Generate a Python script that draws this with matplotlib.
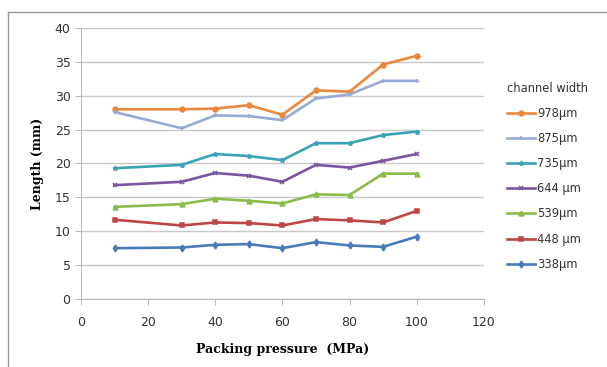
import matplotlib
matplotlib.use("Agg")
import matplotlib.pyplot as plt
from matplotlib.lines import Line2D

pressure = [10, 30, 40, 50, 60, 70, 80, 90, 100]

widths = ["978µm", "875µm", "735µm", "644 µm", "539µm", "448 µm", "338µm"]
w978 = [28.0, 28.0, 28.1, 28.6, 27.2, 30.8, 30.6, 34.6, 35.9]
w875 = [27.6, 25.2, 27.1, 27.0, 26.4, 29.6, 30.2, 32.2, 32.2]
w735 = [19.3, 19.8, 21.4, 21.1, 20.5, 23.0, 23.0, 24.2, 24.7]
w644 = [16.8, 17.3, 18.6, 18.2, 17.3, 19.8, 19.4, 20.4, 21.4]
w539 = [13.6, 14.0, 14.8, 14.5, 14.1, 15.45, 15.35, 18.5, 18.5]
w448 = [11.7, 10.85, 11.3, 11.2, 10.85, 11.8, 11.6, 11.3, 13.0]
w338 = [7.5, 7.6, 8.0, 8.1, 7.5, 8.4, 7.9, 7.7, 9.2]

series = [w978, w875, w735, w644, w539, w448, w338]
colors = ["#E8893C", "#98AAD6", "#3AA3B5", "#7A55A0", "#8DBB4A", "#BE4644", "#4A7BB8"]
markers = ["o", "+", "*", "x", "^", "s", "d"]

fig = plt.figure(figsize=(6.07, 3.67), dpi=100)
ax = fig.add_axes([0.1334, 0.1853, 0.797 - 0.1334, 0.9237 - 0.1853])

for vals, lab, c, m in zip(series, widths, colors, markers):
    ax.plot(pressure, vals, color=c, lw=1.9, marker=m, ms=3.5, mew=1.1, label=lab)

ax.set_xlim(0, 120)
ax.set_ylim(0, 40)
ax.set_xticks(range(0, 121, 20))
ax.set_yticks(range(0, 41, 5))
ax.yaxis.grid(True, color="#C8C8C8", lw=1)
ax.set_axisbelow(True)
for s in ["top", "right"]:
    ax.spines[s].set_visible(False)
for s in ["left", "bottom"]:
    ax.spines[s].set_color("#BBBBBB")
ax.tick_params(axis="both", colors="#BBBBBB", labelcolor="#333333", labelsize=9, length=4)
ax.tick_params(axis="x", pad=8)

ax.set_xlabel("Packing pressure  (MPa)", family="DejaVu Serif", fontweight="bold", fontsize=9, labelpad=10)
ax.set_ylabel("Length (mm)", family="DejaVu Serif", fontweight="bold", fontsize=9, labelpad=8)

leg = ax.legend(loc="upper left", bbox_to_anchor=(1.035, 0.835), frameon=False, title="channel width",
                fontsize=8.3, title_fontsize=8.3, handlelength=2.4, labelspacing=1.05,
                handletextpad=0.2, borderpad=0.3)
leg._legend_box.align = "left"
for t in leg.get_texts():
    t.set_color("#333333")
leg.get_title().set_color("#333333")

# outer frame of the original figure
fig.add_artist(Line2D([8 / 607, 1], [1 - 12 / 367] * 2, transform=fig.transFigure, color="#999999", lw=1))
fig.add_artist(Line2D([8 / 607] * 2, [0, 1 - 12 / 367], transform=fig.transFigure, color="#999999", lw=1))

fig.savefig("out.png", dpi=100)
